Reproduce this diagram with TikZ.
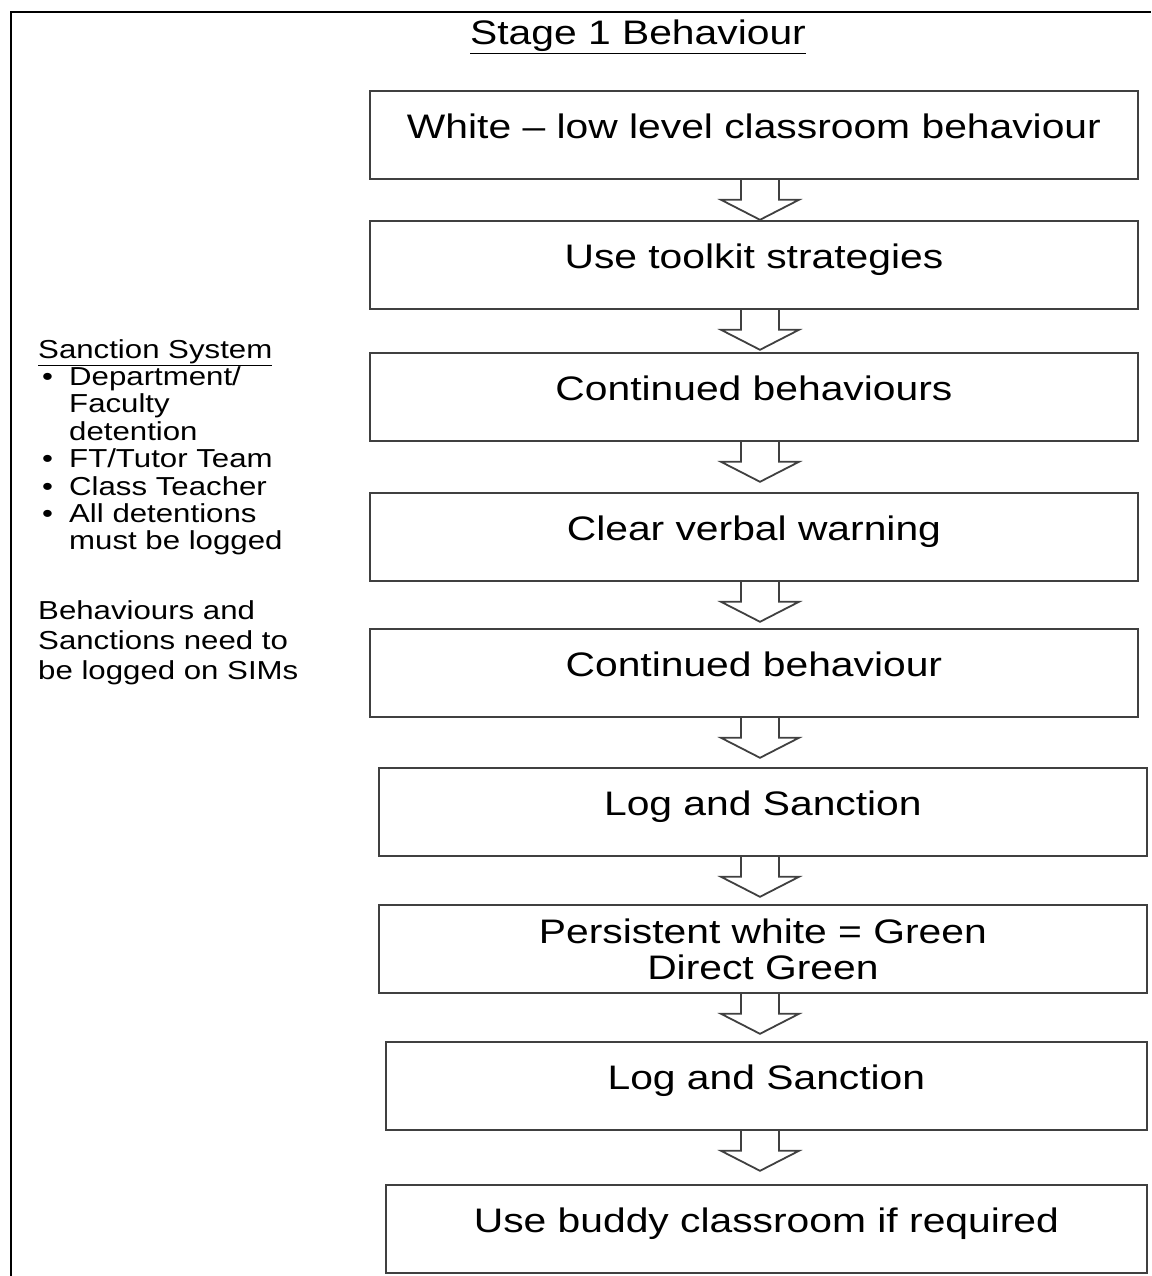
\documentclass[tikz,border=0pt]{standalone}
\usepackage{fontspec}
\setmainfont{Liberation Sans}[FakeStretch=1.2]
\usetikzlibrary{calc}
\newcommand\blockarr[2]{%
  \draw[arrline] let \p1=(#1.south), \p2=(#2.north) in
    (741pt,\y1) -- (741pt,\y1-20pt) -- (721pt,\y1-20pt) -- (760pt,\y1-40pt)
    -- (799pt,\y1-20pt) -- (779pt,\y1-20pt) -- (779pt,\y1);}
\newcommand\bul{\makebox[31pt][l]{\hspace{4pt}\textbullet}}
\newcommand\ind{\hspace*{31pt}}
\begin{document}
\begin{tikzpicture}[x=1pt,y=-1pt,
  box/.style={draw=black!75, line width=1.8pt, minimum height=88pt, inner sep=0pt,
    anchor=north west, font=\fontsize{34}{36}\selectfont, align=center},
  onel/.style={text height=24pt, text depth=16pt},
  arrline/.style={draw=black!75, line width=1.8pt, line join=miter},
  frame/.style={line width=2pt, black},
  side/.style={anchor=north west, inner sep=0pt, align=left}]
\useasboundingbox (0,0) rectangle (1151,1276);
\draw[frame] (11,1276) -- (11,12) -- (1151,12);
\node[inner sep=0pt, font=\fontsize{34}{36}\selectfont] (title) at (638,37) {\underline{Stage 1 Behaviour}};
\node[box,onel,minimum width=768pt] (b1) at (369,90) {White -- low level classroom behaviour};
\node[box,onel,minimum width=768pt] (b2) at (369,220) {Use toolkit strategies};
\node[box,onel,minimum width=768pt] (b3) at (369,352) {Continued behaviours};
\node[box,onel,minimum width=768pt] (b4) at (369,492) {Clear verbal warning};
\node[box,onel,minimum width=768pt] (b5) at (369,628) {Continued behaviour};
\node[box,onel,minimum width=768pt] (b6) at (378,767) {Log and Sanction};
\node[box,minimum width=768pt] (b7) at (378,904) {Persistent white = Green\\Direct Green};
\node[box,onel,minimum width=761pt] (b8) at (385,1041) {Log and Sanction};
\node[box,onel,minimum width=761pt] (b9) at (385,1184) {Use buddy classroom if required};
\blockarr{b1}{b2}
\blockarr{b2}{b3}
\blockarr{b3}{b4}
\blockarr{b4}{b5}
\blockarr{b5}{b6}
\blockarr{b6}{b7}
\blockarr{b7}{b8}
\blockarr{b8}{b9}
\node[side, font=\fontsize{26}{27.4}\selectfont] (sanc) at (38,339)
  {\underline{Sanction System}\\
   \bul Department/\\
   \ind Faculty\\
   \ind detention\\
   \bul FT/Tutor Team\\
   \bul Class Teacher\\
   \bul All detentions\\
   \ind must be logged};
\node[side, font=\fontsize{26}{30}\selectfont] (logn) at (38,600)
  {Behaviours and\\Sanctions need to\\be logged on SIMs};
\end{tikzpicture}
\end{document}
